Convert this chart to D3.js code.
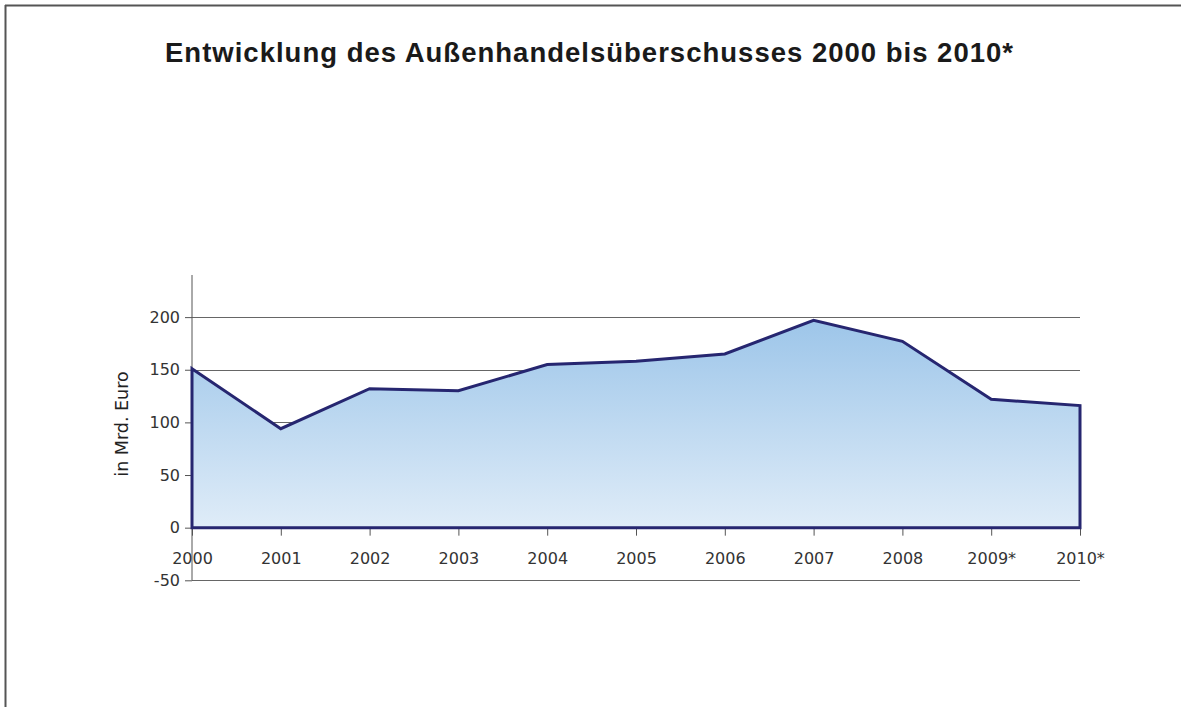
<!DOCTYPE html>
<html><head><meta charset="utf-8">
<script src="https://cdn.jsdelivr.net/npm/d3@7"></script>
<style>body{margin:0;background:#fff;} svg{display:block;}</style>
</head><body>
<script>
const categories = ["2000","2001","2002","2003","2004","2005","2006","2007","2008","2009*","2010*"];
const values = [151, 94, 132, 130, 155, 158, 165, 197, 177, 122, 116];
const yTicks = [-50, 0, 50, 100, 150, 200];
const title = "Entwicklung des Außenhandelsüberschusses 2000 bis 2010*";
const yTitle = "in Mrd. Euro";

const W = 1181, H = 707;
const svg = d3.select("body").append("svg").attr("width", W).attr("height", H);

// frame
svg.append("line").attr("x1",5.5).attr("x2",5.5).attr("y1",5).attr("y2",H).attr("stroke","#555").attr("stroke-width",2);
svg.append("line").attr("x1",5).attr("x2",W).attr("y1",5.5).attr("y2",5.5).attr("stroke","#555").attr("stroke-width",2);

svg.append("text").attr("x",165).attr("y",62).attr("text-anchor","start")
  .attr("font-family","Liberation Sans, Arial, sans-serif").attr("font-weight","bold")
  .attr("font-size",27.5).attr("textLength",848).attr("lengthAdjust","spacing")
  .attr("fill","#1a1a1a").text(title);

const x = d3.scalePoint().domain(categories).range([192, 1080]);
const y = d3.scaleLinear().domain([-50, 240]).range([580.3, 275]);

const defs = svg.append("defs");
const grad = defs.append("linearGradient").attr("id","g").attr("gradientUnits","userSpaceOnUse")
  .attr("x1",0).attr("x2",0).attr("y1",y(200)).attr("y2",y(0));
grad.append("stop").attr("offset","0%").attr("stop-color","#9cc5e9");
grad.append("stop").attr("offset","100%").attr("stop-color","#dfecf8");

// gridlines
svg.append("g").selectAll("line").data(yTicks.filter(d=>d!==0)).join("line")
  .attr("x1",192).attr("x2",1080).attr("y1",d=>Math.round(y(d))+0.5).attr("y2",d=>Math.round(y(d))+0.5)
  .attr("stroke","#666").attr("stroke-width",1);

// y axis
const ya = svg.append("g").attr("transform","translate(192,0)")
  .call(d3.axisLeft(y).tickValues(yTicks).tickSize(7).tickPadding(5).tickFormat(d=>d<0?"-"+Math.abs(d):d));
ya.select(".domain").remove();
ya.append("line").attr("x1",0).attr("x2",0).attr("y1",275).attr("y2",y(-50)).attr("stroke","#555");
ya.selectAll(".tick line").attr("stroke","#555");
ya.selectAll("text").attr("font-family","DejaVu Sans, sans-serif").attr("font-size",16).attr("fill","#333");

// x axis ticks
const xa = svg.append("g").attr("transform",`translate(0,${y(0)})`)
  .call(d3.axisBottom(x).tickSize(8).tickPadding(17));
xa.select(".domain").remove();
xa.selectAll(".tick line").attr("stroke","#555");
xa.selectAll("text").attr("font-family","DejaVu Sans, sans-serif").attr("font-size",16).attr("fill","#333");

// area
const data = categories.map((c,i)=>({c, v: values[i]}));
const area = d3.area().x(d=>x(d.c)).y0(y(0)).y1(d=>y(d.v));
svg.append("path").datum(data).attr("d", d=>area(d)+"")
  .attr("fill","url(#g)").attr("stroke","#262670").attr("stroke-width",3).attr("stroke-linejoin","miter");

svg.append("text").attr("transform",`translate(128,424) rotate(-90)`).attr("text-anchor","middle")
  .attr("font-family","DejaVu Sans, sans-serif").attr("font-size",17.5).attr("fill","#222").text(yTitle);
</script>
</body></html>
